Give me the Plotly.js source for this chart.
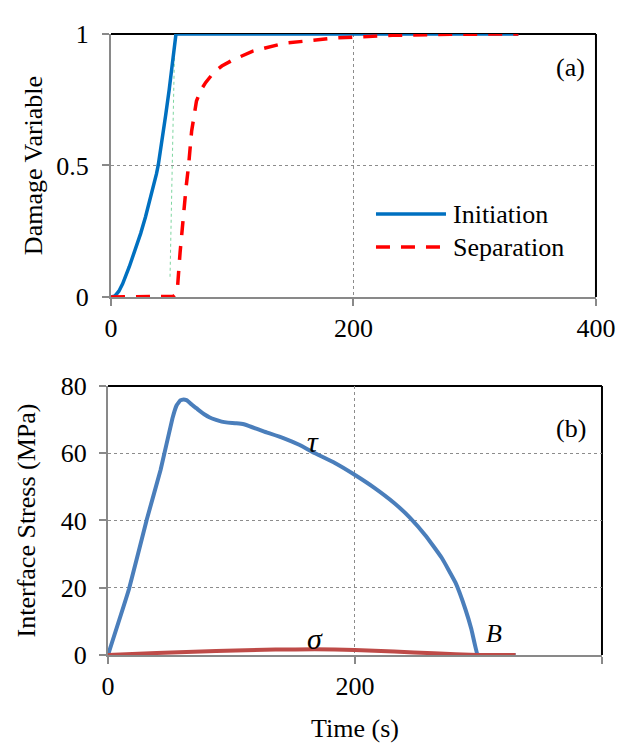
<!DOCTYPE html>
<html>
<head>
<meta charset="utf-8">
<script src="https://cdn.plot.ly/plotly-3.0.1.min.js"></script>
<style>html,body{margin:0;padding:0;background:#fff;}#chart{width:619px;height:747px;}</style>
</head>
<body>
<div id="chart"></div>
<script>
// (a) Damage variable vs time
const initTime = [0, 3.3, 6.5, 9.6, 15.1, 20, 24.5, 28.5, 32.2, 34, 35.8, 37.5, 39, 40.5, 42, 45, 48, 51, 53.6, 120, 200, 280, 336];
const initDamage = [0, 0.004, 0.022, 0.05, 0.115, 0.177, 0.242, 0.305, 0.369, 0.401, 0.434, 0.468, 0.502, 0.545, 0.59, 0.688, 0.788, 0.893, 1, 1, 1, 1, 1];
const sepTime = [0, 48, 51.5, 53.5, 55, 57, 59.5, 62, 64, 66.5, 70.5, 74, 78, 85, 91.4, 100, 117, 143, 186, 232, 280, 336];
const sepDamage = [0, 0, 0.003, 0.012, 0.045, 0.17, 0.31, 0.42, 0.5, 0.63, 0.745, 0.785, 0.815, 0.855, 0.878, 0.9, 0.935, 0.965, 0.985, 0.995, 0.999, 1];
const guideTime = [48.7, 52.8];
const guideDamage = [0.077, 1.028];

// (b) Interface stress vs time
const tauTime = [0, 17, 31.4, 42.6, 52.2, 55.5, 58.5, 61.2, 63.5, 65, 68, 71.5, 74.5, 77.9, 82, 87.5, 92, 97.1, 104, 110, 116.3, 126, 142, 154.8, 167.6, 183.7, 199.7, 215.7, 231.7, 244.6, 257.4, 270.2, 281.4, 289.4, 294.2, 299, 300.6, 330];
const tauStress = [0, 19.6, 40.3, 55.1, 70.4, 74.2, 75.7, 76.0, 75.8, 75.4, 74.4, 73.4, 72.5, 71.6, 70.7, 69.9, 69.4, 69.1, 68.9, 68.6, 67.8, 66.5, 64.5, 62.5, 60.0, 57.1, 53.6, 49.7, 45.2, 40.8, 35.4, 28.9, 21.5, 13.6, 7.7, 0.3, 0, 0];
const sigTime = [0, 39.4, 87.5, 135.6, 167.6, 199.7, 231.7, 263.8, 299, 330];
const sigStress = [0, 0.6, 1.2, 1.6, 1.7, 1.5, 1.0, 0.5, 0, 0];

const xTicks = [0, 200, 400];
const xGrid = [200];
const yTicksA = [0, 0.5, 1];
const yTickTextA = ['0', '0.5', '1'];
const yGridA = [0.5];
const yTicksB = [0, 20, 40, 60, 80];
const yGridB = [20, 40, 60];

const FONT = 'Liberation Serif';
const GRAY = '#898989';

const traces = [
  {x: guideTime, y: guideDamage, xaxis: 'x', yaxis: 'y', mode: 'lines', showlegend: false,
   line: {color: '#7ed6a0', width: 1, dash: 'dot'}, hoverinfo: 'skip'},
  {x: initTime, y: initDamage, xaxis: 'x', yaxis: 'y', mode: 'lines', name: 'Initiation', showlegend: false,
   line: {color: '#0070C0', width: 3.5}},
  {x: sepTime, y: sepDamage, xaxis: 'x', yaxis: 'y', mode: 'lines', name: 'Separation', showlegend: false,
   line: {color: '#FF0000', width: 3.5, dash: '14px,11px'}},
  {x: tauTime, y: tauStress, xaxis: 'x2', yaxis: 'y2', mode: 'lines', name: 'τ', showlegend: false,
   line: {color: '#4A7EBB', width: 4, shape: 'spline', smoothing: 0.3}},
  {x: sigTime, y: sigStress, xaxis: 'x2', yaxis: 'y2', mode: 'lines', name: 'σ', showlegend: false,
   line: {color: '#BE4B48', width: 4, shape: 'spline', smoothing: 0.4}}
];

function axis(extra, gridVals) {
  return Object.assign({
    showgrid: false,
    minor: {tickvals: gridVals, showgrid: true, gridcolor: '#8c8c8c', griddash: 'dot', gridwidth: 1, ticks: ''},
    showline: true, linecolor: GRAY, linewidth: 2,
    ticks: 'outside', ticklen: 7, tickwidth: 2, tickcolor: GRAY,
    tickfont: {family: FONT, size: 26, color: '#000'},
    zeroline: false, automargin: false, layer: 'below traces', fixedrange: true
  }, extra);
}

function frame(xr, yr) {
  return [
    {type: 'line', xref: xr + ' domain', yref: yr + ' domain', x0: 0, x1: 1, y0: 1, y1: 1,
     line: {color: '#000', width: 2}, layer: 'below'},
    {type: 'line', xref: xr + ' domain', yref: yr + ' domain', x0: 1, x1: 1, y0: 0, y1: 1,
     line: {color: '#000', width: 2}, layer: 'below'}
  ];
}

function note(x, y, xref, yref, text, size, xanchor) {
  return {x: x, y: y, xref: xref, yref: yref, text: text, showarrow: false,
          xanchor: xanchor || 'center', yanchor: 'middle', font: {family: FONT, size: size, color: '#000'}};
}

const layout = {
  width: 619, height: 747,
  margin: {l: 0, r: 0, t: 0, b: 0},
  paper_bgcolor: '#fff', plot_bgcolor: '#fff',
  showlegend: false,
  font: {family: FONT, size: 26, color: '#000'},
  xaxis: axis({domain: [0.1793, 0.9628], anchor: 'y', range: [0, 400], tickvals: xTicks}, xGrid),
  yaxis: axis({domain: [0.6024, 0.9545], anchor: 'x', range: [0, 1], tickvals: yTicksA, ticktext: yTickTextA,
    ticklabelstandoff: 8,
    title: {text: 'Damage Variable', font: {family: FONT, size: 26}, standoff: 6}}, yGridA),
  xaxis2: axis({domain: [0.1745, 0.9725], anchor: 'y2', range: [0, 400], tickvals: xTicks,
    title: {text: 'Time (s)', font: {family: FONT, size: 26}, standoff: 19}}, xGrid),
  yaxis2: axis({domain: [0.1232, 0.4833], anchor: 'x2', range: [0, 80], tickvals: yTicksB,
    ticklabelstandoff: 7,
    title: {text: 'Interface Stress (MPa)', font: {family: FONT, size: 26}, standoff: 18}}, yGridB),
  shapes: frame('x', 'y').concat(frame('x2', 'y2')).concat([
    {type: 'line', xref: 'paper', yref: 'paper', x0: 0.6074, x1: 0.7205, y0: 0.7135, y1: 0.7135,
     line: {color: '#0070C0', width: 3.5}},
    {type: 'line', xref: 'paper', yref: 'paper', x0: 0.6074, x1: 0.7205, y0: 0.6693, y1: 0.6693,
     line: {color: '#FF0000', width: 3.5, dash: '14px,11px'}}
  ]),
  annotations: [
    note(53, 1.076, 'x', 'y', '<i>A</i>', 26),
    note(379, 0.874, 'x', 'y', '(a)', 26),
    note(0.7286, 0.7135, 'paper', 'paper', 'Initiation', 26, 'left'),
    note(0.7286, 0.6693, 'paper', 'paper', 'Separation', 26, 'left'),
    note(375, 67.5, 'x2', 'y2', '(b)', 26),
    note(166, 63.5, 'x2', 'y2', '<i>τ</i>', 30),
    note(168, 5, 'x2', 'y2', '<i>σ</i>', 30),
    note(312.5, 6.4, 'x2', 'y2', '<i>B</i>', 26)
  ]
};

Plotly.newPlot('chart', traces, layout, {displayModeBar: false, staticPlot: true});
</script>
</body>
</html>
